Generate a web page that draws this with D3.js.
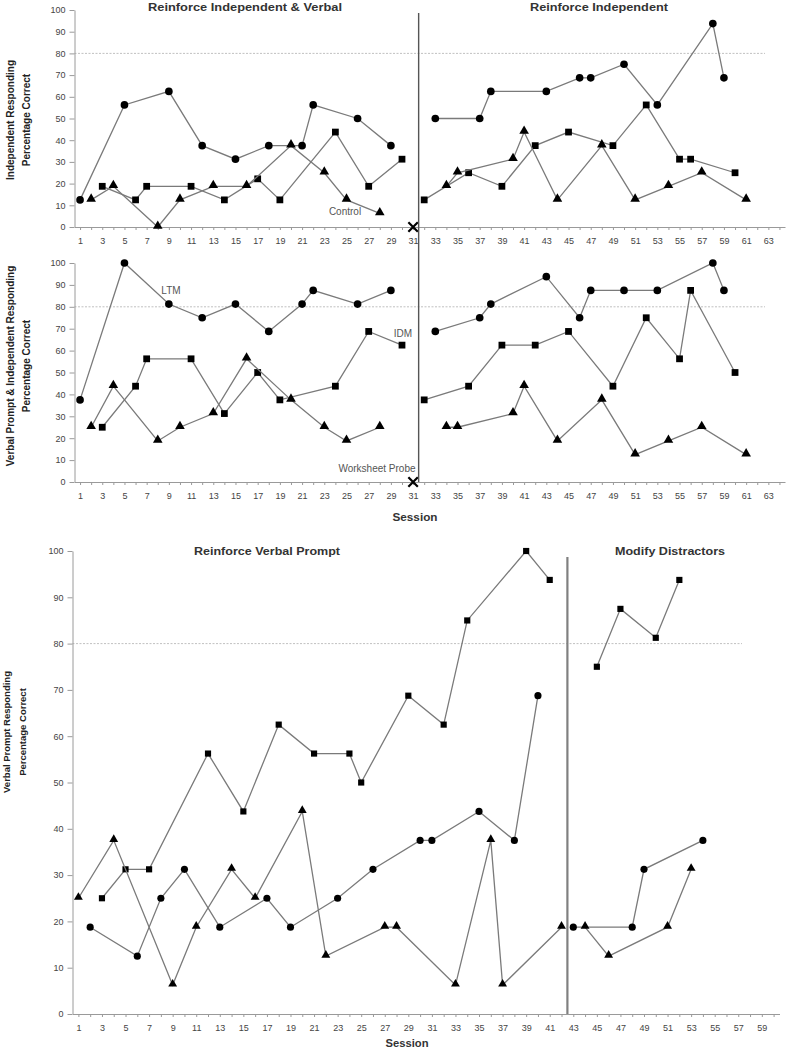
<!DOCTYPE html>
<html><head><meta charset="utf-8">
<script src="https://cdnjs.cloudflare.com/ajax/libs/d3/7.8.5/d3.min.js"></script>
<style>
html,body{margin:0;padding:0;background:#fff;}
svg{display:block;font-family:"Liberation Sans",Arial,sans-serif;}
</style></head><body>
<svg id="chart" width="787" height="1049"></svg>
<script>
// ---------- DATA ----------
// Panel 1: Independent responding (phase change after session 31)
const p1LtmSessions = [1,5,9,12,15,18,21,22,26,29,33,37,38,43,46,47,50,53,58,59];
const p1LtmValues   = [12.5,56.25,62.5,37.5,31.25,37.5,37.5,56.25,50,37.5,50,50,62.5,62.5,68.75,68.75,75,56.25,93.75,68.75];
const p1IdmSessions = [3,6,7,11,14,17,19,24,27,30,32,36,39,42,45,49,52,55,56,60];
const p1IdmValues   = [18.75,12.5,18.75,18.75,12.5,22.2,12.5,43.75,18.75,31.25,12.5,25,18.75,37.5,43.75,37.5,56.25,31.25,31.25,25];
const p1CtlSessions = [2,4,8,10,13,16,20,23,25,28,34,35,40,41,44,48,51,54,57,61];
const p1CtlValues   = [12.5,18.75,0,12.5,18.75,18.75,37.5,25,12.5,6.25,18.75,25,31.25,43.75,12.5,37.5,12.5,18.75,25,12.5];

// Panel 2: Verbal prompt & independent responding
const p2LtmSessions = [1,5,9,12,15,18,21,22,26,29,33,37,38,43,46,47,50,53,58,59];
const p2LtmValues   = [37.5,100,81.25,75,81.25,68.75,81.25,87.5,81.25,87.5,68.75,75,81.25,93.75,75,87.5,87.5,87.5,100,87.5];
const p2IdmSessions = [3,6,7,11,14,17,19,24,27,30,32,36,39,42,45,49,52,55,56,60];
const p2IdmValues   = [25,43.75,56.25,56.25,31.25,50,37.5,43.75,68.75,62.5,37.5,43.75,62.5,62.5,68.75,43.75,75,56.25,87.5,50];
const p2CtlSessions = [2,4,8,10,13,16,20,23,25,28,34,35,40,41,44,48,51,54,57,61];
const p2CtlValues   = [25,43.75,18.75,25,31.25,56.25,37.5,25,18.75,25,25,25,31.25,43.75,18.75,37.5,12.5,18.75,25,12.5];

// Worksheet probe (X marker)
const probeSessions = [31];
const probeValues = [0];

// Panel 3: Verbal prompt responding (phase change after session 42)
const p3IdmSessions = [3,5,7,12,15,18,21,24,25,29,32,34,39,41,45,47,50,52];
const p3IdmValues   = [25,31.25,31.25,56.25,43.75,62.5,56.25,56.25,50,68.75,62.5,85,100,93.75,75,87.5,81.25,93.75];
const p3LtmSessions = [2,6,8,10,13,17,19,23,26,30,31,35,38,40,43,48,49,54];
const p3LtmValues   = [18.75,12.5,25,31.25,18.75,25,18.75,25,31.25,37.5,37.5,43.75,37.5,68.75,18.75,18.75,31.25,37.5];
const p3CtlSessions = [1,4,9,11,14,16,20,22,27,28,33,36,37,42,44,46,51,53];
const p3CtlValues   = [25,37.5,6.25,18.75,31.25,25,43.75,12.5,18.75,18.75,6.25,37.5,6.25,18.75,18.75,12.5,18.75,31.25];

const yTicks = [0,10,20,30,40,50,60,70,80,90,100];
const criterion = 80;
const phaseBreakTop = 31.5;
const phaseBreakBottom = 42.5;
const topTitles = ["Reinforce Independent & Verbal", "Reinforce Independent"];
const bottomTitles = ["Reinforce Verbal Prompt", "Modify Distractors"];

// ---------- DRAW ----------
const svg = d3.select("#chart");
const lineColor = "#7a7a7a";
const axisColor = "#9a9a9a";
const textColor = "#444";

function zip(s, v){ return s.map((d,i)=>({s:d, v:v[i]})); }

function drawPanel(o){
  const g = svg.append("g");
  const x = o.x, y = o.y;
  g.append("line").attr("x1", x.range()[0]).attr("x2", o.critEnd)
    .attr("y1", y(criterion)).attr("y2", y(criterion))
    .attr("stroke","#b0b0b0").attr("stroke-width",0.8).attr("stroke-dasharray","2,1.5");
  const ya = g.append("g").attr("transform",`translate(${x.range()[0]},0)`)
    .call(d3.axisLeft(y).tickValues(yTicks).tickSize(5).tickSizeOuter(0).tickPadding(4));
  const sessions = d3.range(1, o.maxSession+1);
  const xa = g.append("g").attr("transform",`translate(0,${y(0)})`)
    .call(d3.axisBottom(x).tickValues(sessions).tickSize(3).tickSizeOuter(0).tickPadding(8)
      .tickFormat(d => d % 2 === 1 ? d : ""));
  [ya, xa].forEach(a=>{
    a.selectAll("path, line").attr("stroke", axisColor);
    a.selectAll("text").attr("fill", textColor).style("font-size","9px");
  });
  const line = d3.line().x(d=>x(d.s)).y(d=>y(d.v));
  o.series.forEach(se=>{
    const pts = zip(se.s, se.v);
    const segs = [pts.filter(d=>d.s < o.phaseBreak), pts.filter(d=>d.s > o.phaseBreak)];
    segs.forEach(seg=>{
      if (seg.length>1) g.append("path").attr("d", line(seg)).attr("fill","none")
        .attr("stroke", lineColor).attr("stroke-width",1.3);
    });
    const sym = d3.symbol().type(se.type).size(se.size);
    g.selectAll(null).data(pts).enter().append("path")
      .attr("d", sym)
      .attr("transform", d=>`translate(${x(d.s)},${y(d.v) + (se.type===d3.symbolTriangle ? -1 : 0)})`)
      .attr("fill","#000");
  });
  return g;
}

const xTop = d3.scaleLinear().domain([0.5, 64.5]).range([74.5, 785]);
const yTop = d3.scaleLinear().domain([0,100]).range([227, 10]);
const yMid = d3.scaleLinear().domain([0,100]).range([482, 263]);
const xBot = d3.scaleLinear().domain([0.5, 60.5]).range([72.5, 779.5]);
const yBot = d3.scaleLinear().domain([0,100]).range([1014, 551]);

const g1 = drawPanel({x:xTop, y:yTop, maxSession:64, critEnd:765, phaseBreak:phaseBreakTop,
  series:[
    {s:p1LtmSessions, v:p1LtmValues, type:d3.symbolCircle, size:46},
    {s:p1IdmSessions, v:p1IdmValues, type:d3.symbolSquare, size:46},
    {s:p1CtlSessions, v:p1CtlValues, type:d3.symbolTriangle, size:40}
  ]});
const g2 = drawPanel({x:xTop, y:yMid, maxSession:64, critEnd:765, phaseBreak:phaseBreakTop,
  series:[
    {s:p2LtmSessions, v:p2LtmValues, type:d3.symbolCircle, size:46},
    {s:p2IdmSessions, v:p2IdmValues, type:d3.symbolSquare, size:46},
    {s:p2CtlSessions, v:p2CtlValues, type:d3.symbolTriangle, size:40}
  ]});
const g3 = drawPanel({x:xBot, y:yBot, maxSession:60, critEnd:742, phaseBreak:phaseBreakBottom,
  series:[
    {s:p3IdmSessions, v:p3IdmValues, type:d3.symbolSquare, size:38},
    {s:p3LtmSessions, v:p3LtmValues, type:d3.symbolCircle, size:40},
    {s:p3CtlSessions, v:p3CtlValues, type:d3.symbolTriangle, size:34}
  ]});

[[g1,yTop],[g2,yMid]].forEach(([g,y])=>{
  const pts = zip(probeSessions, probeValues);
  g.selectAll(null).data(pts).enter().append("path")
    .attr("d", d3.symbol().type(d3.symbolTimes).size(60))
    .attr("transform", d=>`translate(${xTop(d.s)},${y(d.v)})`)
    .attr("fill","none").attr("stroke","#000").attr("stroke-width",2.2);
  g.selectAll(null).data(pts).enter().append("path")
    .attr("d", d3.symbol().type(d3.symbolPlus).size(60))
    .attr("transform", d=>`translate(${xTop(d.s)},${y(d.v)}) scale(1,0.0001)`)
    .attr("fill","none").attr("stroke","#000").attr("stroke-width",1.2);
});

svg.append("line").attr("x1",xTop(phaseBreakTop)).attr("x2",xTop(phaseBreakTop))
  .attr("y1",13).attr("y2",yMid(0)).attr("stroke","#555").attr("stroke-width",1.4);
svg.append("line").attr("x1",xBot(phaseBreakBottom)).attr("x2",xBot(phaseBreakBottom))
  .attr("y1",557).attr("y2",yBot(0)).attr("stroke","#808080").attr("stroke-width",2.2);

function bold(txt, x, y, size, len){
  const t = svg.append("text").attr("x",x).attr("y",y).attr("text-anchor","middle")
    .attr("dominant-baseline","central").style("font-weight","bold")
    .style("font-size", size+"px").attr("fill","#333").text(txt);
  if (len) t.attr("textLength", len).attr("lengthAdjust","spacingAndGlyphs");
  return t;
}
bold(topTitles[0], 245, 7, 11.5, 194);
bold(topTitles[1], 599, 7, 11.5, 138);
bold(bottomTitles[0], 267, 551, 11.5, 146);
bold(bottomTitles[1], 670, 551, 11.5, 110);
bold("Session", 415, 517, 10.5, 45);
bold("Session", 407, 1043, 10.5, 43);

function ytitle(lines, cy, xs, size){
  lines.forEach((t,i)=>{
    svg.append("text").attr("transform",`translate(${xs[i]},${cy}) rotate(-90)`)
      .attr("text-anchor","middle").style("font-weight","bold").style("font-size",size+"px")
      .attr("fill","#222").text(t);
  });
}
ytitle(["Independent Responding","Percentage Correct"], 120, [14,30], 10);
ytitle(["Verbal Prompt & Independent Responding","Percentage Correct"], 366, [14,30], 10);
ytitle(["Verbal Prompt Responding","Percentage Correct"], 732, [10,26], 9.5);

function note(t, x, y){
  svg.append("text").attr("x",x).attr("y",y).attr("text-anchor","middle")
    .attr("dominant-baseline","central").style("font-size","10px").attr("fill","#555").text(t);
}
note("Control", 345, 211);
note("LTM", 171, 290);
note("IDM", 403, 333);
note("Worksheet Probe", 377, 468);
</script>
</body></html>
